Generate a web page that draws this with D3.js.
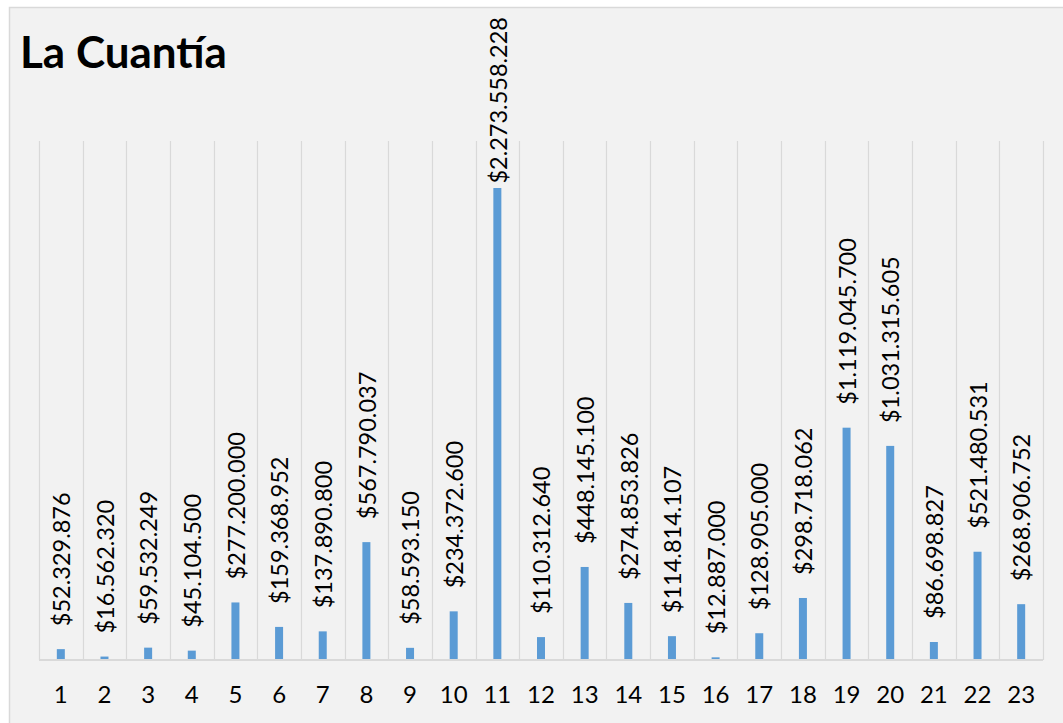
<!DOCTYPE html>
<html>
<head>
<meta charset="utf-8">
<script src="https://cdn.jsdelivr.net/npm/d3@7"></script>
<style>
  html, body { margin: 0; padding: 0; background: #ffffff; }
  svg { display: block; }
</style>
</head>
<body>
<svg id="chart" width="1063" height="723"></svg>
<script>
const categories = ["1","2","3","4","5","6","7","8","9","10","11","12","13","14","15","16","17","18","19","20","21","22","23"];
const values = [52329876, 16562320, 59532249, 45104500, 277200000, 159368952, 137890800, 567790037, 58593150, 234372600, 2273558228, 110312640, 448145100, 274853826, 114814107, 12887000, 128905000, 298718062, 1119045700, 1031315605, 86698827, 521480531, 268906752];
const title = "La Cuantía";
const yDomainMax = 2500000000;

const svg = d3.select("#chart");
const plot = { left: 39, right: 1043, top: 141, bottom: 660 };

// chart area
svg.append("rect")
  .attr("x", 9.5).attr("y", 7.5)
  .attr("width", 1200).attr("height", 900)
  .attr("fill", "#f2f2f2")
  .attr("stroke", "#d9d9d9").attr("stroke-width", 1.5);

svg.append("text")
  .attr("x", 20).attr("y", 68)
  .attr("font-family", "Lato, 'Open Sans', sans-serif")
  .attr("font-weight", "bold")
  .attr("font-size", 44)
  .attr("fill", "#000")
  .text(title);

const x = d3.scaleBand().domain(categories).range([plot.left, plot.right]).paddingInner(0).paddingOuter(0);
const y = d3.scaleLinear().domain([0, yDomainMax]).range([plot.bottom, plot.top]);

// vertical gridlines at band boundaries
const bounds = categories.map(c => x(c)).concat([x(categories[categories.length - 1]) + x.bandwidth()]);
svg.append("g").selectAll("line").data(bounds).join("line")
  .attr("x1", d => Math.round(d) + 0.5).attr("x2", d => Math.round(d) + 0.5)
  .attr("y1", plot.top).attr("y2", plot.bottom)
  .attr("stroke", "#d9d9d9").attr("stroke-width", 1.2);

// bars
const barW = 8;
svg.append("g").selectAll("rect").data(values).join("rect")
  .attr("x", (d, i) => x(categories[i]) + x.bandwidth() / 2 - barW / 2)
  .attr("y", d => y(d))
  .attr("width", barW)
  .attr("height", d => plot.bottom - y(d))
  .attr("fill", "#5b9bd5");

// x axis
const xAxis = d3.axisBottom(x).tickSize(0).tickPadding(0);
const gx = svg.append("g").attr("transform", `translate(0,${plot.bottom})`).call(xAxis);
gx.select(".domain").attr("stroke", "#d9d9d9").attr("stroke-width", 2).attr("d", `M${plot.left},0H${plot.right}`);
gx.selectAll(".tick text")
  .attr("y", 43).attr("dy", 0)
  .attr("font-family", "Lato, 'Open Sans', sans-serif")
  .attr("font-size", 24)
  .attr("fill", "#000");

// data labels
const fmt = d3.formatLocale({ decimal: ",", thousands: ".", grouping: [3], currency: ["$", ""] }).format("$,.0f");
const labels = svg.append("g").selectAll("text").data(values).join("text")
  .attr("font-family", "Lato, 'Open Sans', sans-serif")
  .attr("font-size", 23.5)
  .attr("fill", "#000")
  .attr("text-anchor", "start")
  .attr("dy", "0.35em")
  .text(d => fmt(d));
labels.each(function(d, i) {
  const L = this.getComputedTextLength();
  let start = y(d) - 23;
  if (start - L < 17) start = 17 + L;
  const cx = x(categories[i]) + x.bandwidth() / 2 + 1;
  d3.select(this).attr("transform", `translate(${cx},${start}) rotate(-90)`);
});
</script>
</body>
</html>
